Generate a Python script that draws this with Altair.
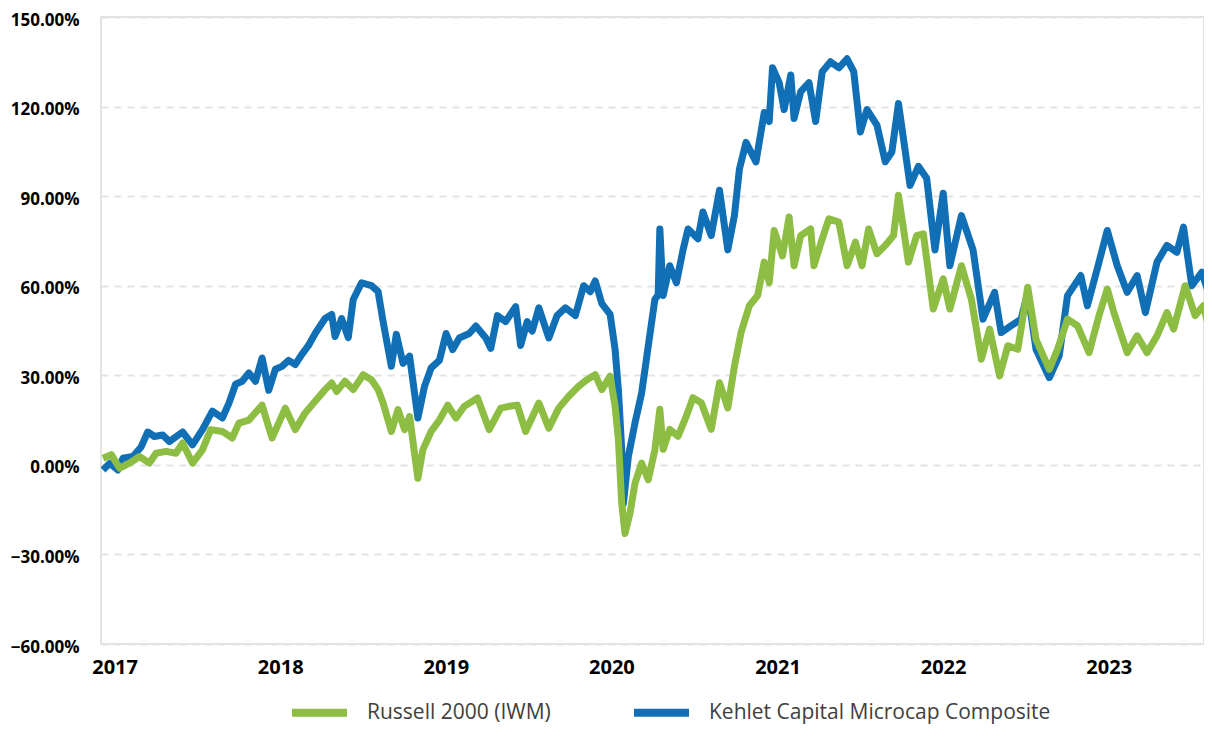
import altair as alt
import numpy as np
import pandas as pd

# Decimal-year positions and cumulative returns (%)
kehlet_years = [
    2016.93, 2016.97, 2017.02, 2017.05, 2017.11, 2017.16, 2017.20, 2017.24, 2017.29, 2017.33,
    2017.41, 2017.47, 2017.53, 2017.59, 2017.65, 2017.69, 2017.73, 2017.77, 2017.81, 2017.85,
    2017.89, 2017.93, 2017.97, 2018.01, 2018.05, 2018.09, 2018.13, 2018.17, 2018.21, 2018.27,
    2018.31, 2018.33, 2018.37, 2018.41, 2018.44, 2018.49, 2018.55, 2018.59, 2018.62, 2018.67,
    2018.70, 2018.74, 2018.78, 2018.83, 2018.87, 2018.91, 2018.96, 2019.00, 2019.04, 2019.08,
    2019.14, 2019.18, 2019.24, 2019.27, 2019.31, 2019.36, 2019.42, 2019.45, 2019.49, 2019.52,
    2019.56, 2019.62, 2019.67, 2019.72, 2019.78, 2019.83, 2019.87, 2019.90, 2019.94, 2019.99,
    2020.02, 2020.04, 2020.06, 2020.07, 2020.10, 2020.14, 2020.18, 2020.22, 2020.26, 2020.28,
    2020.29, 2020.31, 2020.35, 2020.39, 2020.43, 2020.46, 2020.52, 2020.55, 2020.60, 2020.65,
    2020.70, 2020.74, 2020.77, 2020.81, 2020.87, 2020.92, 2020.95, 2020.97, 2021.01, 2021.04,
    2021.08, 2021.10, 2021.14, 2021.19, 2021.23, 2021.27, 2021.32, 2021.37, 2021.42, 2021.46,
    2021.50, 2021.54, 2021.60, 2021.65, 2021.69, 2021.73, 2021.80, 2021.85, 2021.90, 2021.95,
    2022.00, 2022.04, 2022.11, 2022.18, 2022.24, 2022.31, 2022.35, 2022.41, 2022.47, 2022.51,
    2022.56, 2022.64, 2022.70, 2022.75, 2022.83, 2022.87, 2022.94, 2022.99, 2023.05, 2023.11,
    2023.17, 2023.22, 2023.29, 2023.35, 2023.41, 2023.45, 2023.50, 2023.56, 2023.62,
]
kehlet_values = [
    -1.7, 0.5, -1.7, 2.2, 2.8, 6.0, 11.0, 9.5, 10.0, 7.8,
    11.0, 6.7, 11.8, 18.0, 15.7, 20.7, 27.0, 28.0, 30.8, 28.0,
    35.8, 25.0, 32.0, 33.0, 35.0, 33.6, 37.0, 40.0, 44.0, 49.0,
    50.4, 43.0, 49.0, 42.6, 55.4, 61.0, 60.0, 58.0, 48.0, 33.0,
    43.7, 34.0, 36.4, 15.7, 26.3, 32.5, 35.0, 44.0, 38.6, 42.5,
    44.0, 46.5, 42.5, 39.0, 50.0, 48.0, 53.0, 40.0, 48.0, 44.8,
    52.6, 42.5, 50.0, 52.6, 50.0, 60.0, 58.0, 61.6, 54.0, 50.4,
    38.6, 25.0, 5.0, -13.0, 2.8, 14.0, 24.0, 39.7, 55.4, 57.0,
    79.0, 56.7, 66.7, 61.0, 72.0, 79.0, 75.7, 84.7, 76.8, 92.0,
    72.0, 83.5, 99.0, 108.0, 101.5, 118.0, 115.0, 133.0, 128.0, 119.0,
    130.6, 116.0, 125.0, 128.0, 115.0, 131.7, 135.0, 133.0, 136.0, 131.7,
    111.5, 119.0, 113.8, 101.5, 104.8, 121.0, 93.6, 100.0, 96.0, 72.0,
    91.0, 66.7, 83.5, 72.0, 48.8, 57.8, 44.3, 46.6, 48.8, 57.8,
    38.7, 29.2, 36.5, 56.7, 63.4, 53.3, 67.9, 78.5, 66.7, 57.8,
    63.4, 51.0, 67.9, 73.5, 71.2, 79.6, 60.0, 64.5, 54.4,
]

russell_years = [
    2016.93, 2016.98, 2017.03, 2017.09, 2017.15, 2017.21, 2017.25, 2017.31, 2017.37, 2017.41,
    2017.47, 2017.53, 2017.58, 2017.65, 2017.71, 2017.75, 2017.81, 2017.89, 2017.95, 2017.99,
    2018.03, 2018.09, 2018.15, 2018.21, 2018.27, 2018.31, 2018.34, 2018.39, 2018.44, 2018.50,
    2018.55, 2018.59, 2018.62, 2018.67, 2018.71, 2018.75, 2018.78, 2018.83, 2018.86, 2018.91,
    2018.96, 2019.01, 2019.06, 2019.11, 2019.19, 2019.26, 2019.33, 2019.38, 2019.43, 2019.48,
    2019.56, 2019.62, 2019.68, 2019.74, 2019.80, 2019.85, 2019.90, 2019.94, 2019.99, 2020.02,
    2020.04, 2020.06, 2020.08, 2020.11, 2020.14, 2020.18, 2020.22, 2020.26, 2020.29, 2020.31,
    2020.35, 2020.40, 2020.45, 2020.49, 2020.54, 2020.60, 2020.65, 2020.70, 2020.74, 2020.78,
    2020.83, 2020.88, 2020.92, 2020.95, 2020.98, 2021.03, 2021.07, 2021.10, 2021.14, 2021.20,
    2021.22, 2021.26, 2021.31, 2021.37, 2021.42, 2021.47, 2021.51, 2021.55, 2021.60, 2021.65,
    2021.70, 2021.73, 2021.79, 2021.84, 2021.88, 2021.94, 2022.00, 2022.04, 2022.11, 2022.17,
    2022.23, 2022.28, 2022.34, 2022.39, 2022.45, 2022.51, 2022.56, 2022.64, 2022.69, 2022.75,
    2022.81, 2022.88, 2022.94, 2022.99, 2023.03, 2023.11, 2023.17, 2023.23, 2023.29, 2023.35,
    2023.39, 2023.46, 2023.52, 2023.57, 2023.62,
]
russell_values = [
    2.2, 3.4, -1.1, 0.6, 2.8, 0.6, 3.9, 4.5, 3.9, 7.3,
    0.6, 5.0, 11.8, 11.2, 9.0, 14.0, 15.0, 20.0, 9.0, 14.0,
    19.0, 11.8, 17.4, 21.3, 25.2, 27.4, 24.6, 28.0, 25.2, 30.2,
    28.5, 25.2, 20.7, 11.2, 18.5, 11.8, 16.2, -4.5, 5.0, 11.2,
    15.0, 20.0, 15.7, 19.6, 22.4, 11.8, 19.0, 19.6, 20.0, 11.2,
    20.7, 12.3, 19.0, 23.0, 26.3, 28.5, 30.2, 25.2, 29.7, 19.6,
    8.4, -12.9, -23.0, -16.2, -6.2, 0.6, -5.0, 5.0, 18.6, 5.2,
    11.9, 9.6, 16.3, 22.5, 20.8, 11.9, 27.5, 19.1, 33.0, 44.3,
    53.3, 56.7, 67.9, 61.0, 78.5, 70.0, 83.0, 66.7, 76.8, 79.0,
    66.7, 74.0, 82.4, 81.3, 66.7, 74.6, 66.7, 79.0, 70.7, 73.5,
    76.8, 90.3, 67.9, 76.8, 77.4, 52.2, 62.3, 52.2, 66.7, 55.5,
    35.4, 45.5, 29.8, 39.9, 38.7, 59.5, 42.0, 32.0, 38.7, 48.8,
    46.6, 37.6, 50.0, 58.9, 51.0, 37.6, 43.2, 37.6, 43.2, 51.0,
    45.5, 60.0, 50.0, 53.3, 42.0,
]

series_names = ["Russell 2000 (IWM)", "Kehlet Capital Microcap Composite"]
series_colors = ["#8dbd43", "#106fb5"]
year_ticks = [2017, 2018, 2019, 2020, 2021, 2022, 2023]
y_ticks = [-0.6, -0.3, 0.0, 0.3, 0.6, 0.9, 1.2, 1.5]


def to_dates(years):
    yrs = np.array(years, dtype=float)
    return pd.Timestamp("2017-01-01") + pd.to_timedelta((yrs - 2017) * 365.25, unit="D")


df = pd.concat([
    pd.DataFrame({"date": to_dates(kehlet_years), "ret": np.array(kehlet_values) / 100,
                  "series": series_names[1]}),
    pd.DataFrame({"date": to_dates(russell_years), "ret": np.array(russell_values) / 100,
                  "series": series_names[0]}),
], ignore_index=True)

FONT = "Open Sans"

chart = (
    alt.Chart(df)
    .mark_line(strokeWidth=7, strokeJoin="round", clip=True)
    .encode(
        x=alt.X(
            "date:T",
            title=None,
            scale=alt.Scale(domain=[alt.DateTime(year=2016, month=12, date=2),
                                    alt.DateTime(year=2023, month=7, date=30)]),
            axis=alt.Axis(
                values=[alt.DateTime(year=y, month=1, date=1) for y in year_ticks],
                format="%Y", grid=False, ticks=False, domain=False,
                labelFont=FONT, labelFontSize=20, labelFontWeight="bold",
                labelColor="#000000", labelPadding=13,
            ),
        ),
        y=alt.Y(
            "ret:Q",
            title=None,
            scale=alt.Scale(domain=[-0.6, 1.5], nice=False, zero=False),
            axis=alt.Axis(
                values=y_ticks, format=".2%", ticks=False, domain=False,
                grid=True, gridColor="#e3e3e3", gridWidth=2, gridDash=[7, 6],
                labelFont=FONT, labelFontSize=17, labelFontWeight="bold",
                labelColor="#000000", labelPadding=22, labelOffset=3,
            ),
        ),
        color=alt.Color(
            "series:N",
            scale=alt.Scale(domain=series_names, range=series_colors),
            legend=alt.Legend(
                orient="none", legendX=187, legendY=664, direction="horizontal",
                title=None, symbolType="stroke", symbolStrokeWidth=8, symbolSize=3025,
                labelFont=FONT, labelFontSize=21, labelColor="#404040", labelLimit=0,
                labelOffset=16, columnPadding=67, padding=0,
            ),
        ),
    )
    .properties(
        width=1103, height=627,
        autosize=alt.AutoSizeParams(type="none"),
        padding={"left": 93, "top": 9, "right": 0, "bottom": 94},
    )
    .configure_view(stroke="#e3e3e3", strokeWidth=2)
)

chart.save("out.html", embed_options={"renderer": "svg", "actions": False})
